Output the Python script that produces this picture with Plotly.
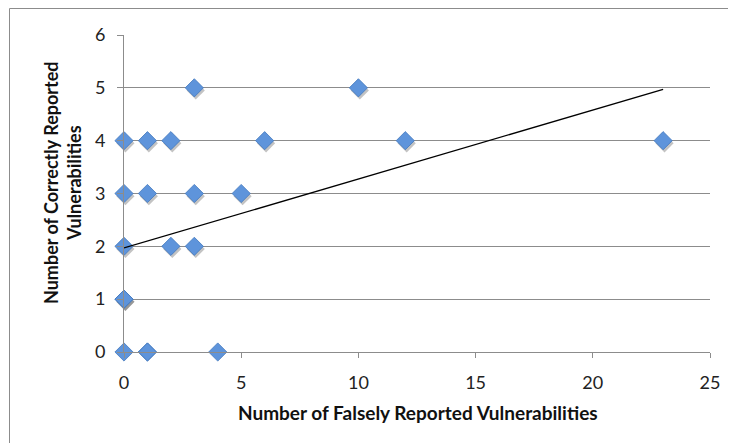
import plotly.graph_objects as go

# Data
false_reported = [3, 10, 0, 1, 2, 6, 12, 23, 0, 1, 3, 5, 0, 2, 3, 0, 0, 0, 1, 1, 4]
correct_reported = [5, 5, 4, 4, 4, 4, 4, 4, 3, 3, 3, 3, 2, 2, 2, 1, 1, 0, 0, 0, 0]

# Linear trendline endpoints
trend_x = [0, 23]
trend_y = [1.97, 4.97]

x_ticks = [0, 5, 10, 15, 20, 25]
y_ticks = [0, 1, 2, 3, 4, 5, 6]

x_title = "Number of Falsely Reported Vulnerabilities"
y_title = "Number of Correctly Reported<br>Vulnerabilities"

FONT = "Lato"
OFF = 8  # page body offset
W, H = 736 - OFF, 443 - OFF
# plot area in page pixels: x 124..710, y 35..352
L, T = 124 - OFF, 35 - OFF
R, B = W - (710 - OFF), H - (352 - OFF)
pw, ph = W - L - R, H - T - B


def px_x(page_x):
    return (page_x - OFF - L) / pw


def px_y(page_y):
    return 1 - (page_y - OFF - T) / ph


fig = go.Figure()

# soft drop shadow under markers
fig.add_trace(go.Scatter(
    x=[v + 0.06 for v in false_reported],
    y=[v - 0.05 for v in correct_reported],
    mode="markers", cliponaxis=False,
    marker=dict(symbol="diamond", size=14, color="rgba(40,40,40,0.28)", line=dict(width=0)),
    hoverinfo="skip", showlegend=False,
))

fig.add_trace(go.Scatter(
    x=false_reported, y=correct_reported, mode="markers", cliponaxis=False,
    marker=dict(symbol="diamond", size=14, color="#5E94DB",
                line=dict(color="#4177BD", width=0.8)),
    showlegend=False,
))

fig.add_trace(go.Scatter(
    x=trend_x, y=trend_y, mode="lines", cliponaxis=False,
    line=dict(color="black", width=1.3),
    showlegend=False,
))

fig.update_xaxes(
    range=[0, 25], tickvals=x_ticks, showgrid=False, zeroline=False,
    showline=True, linecolor="#8C8C8C", linewidth=1,
    ticks="outside", ticklen=5, tickcolor="#8C8C8C", tickwidth=1,
    ticklabelstandoff=9,
    tickfont=dict(family=FONT, size=18, color="#222"),
)
fig.update_yaxes(
    range=[0, 6], tickvals=y_ticks, showgrid=True, gridcolor="#8C8C8C", gridwidth=1,
    zeroline=False, showline=True, linecolor="#8C8C8C", linewidth=1,
    ticks="outside", ticklen=6, tickcolor="#8C8C8C", tickwidth=1,
    ticklabelstandoff=8,
    tickfont=dict(family=FONT, size=18, color="#222"),
)

annotations = [
    dict(text="<b>" + x_title + "</b>", xref="paper", yref="paper",
         x=px_x(417.5), y=px_y(412), xanchor="center", yanchor="middle",
         showarrow=False, font=dict(family=FONT, size=19, color="#111")),
    dict(text="<b>" + y_title + "</b>", xref="paper", yref="paper",
         x=px_x(62), y=px_y(183), xanchor="center", yanchor="middle",
         textangle=-90, showarrow=False, font=dict(family=FONT, size=18, color="#111")),
]

shapes = [
    dict(type="rect", xref="paper", yref="paper",
         x0=px_x(9.5), x1=px_x(800),
         y0=px_y(500), y1=px_y(8.5),
         line=dict(color="#8C8C8C", width=1), layer="below"),
]

fig.update_layout(
    width=W, height=H,
    margin=dict(l=L, r=R, t=T, b=B, autoexpand=False),
    paper_bgcolor="white", plot_bgcolor="white",
    annotations=annotations, shapes=shapes,
    showlegend=False,
)

fig.write_html("out.html")
